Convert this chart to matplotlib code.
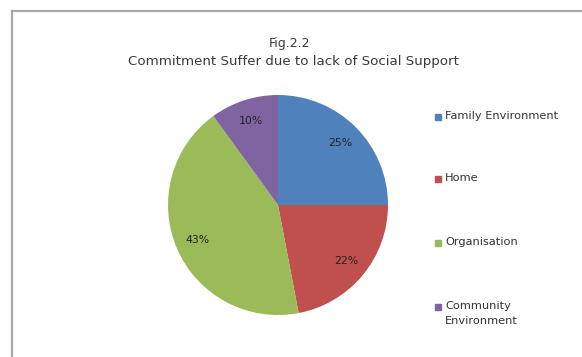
import matplotlib
matplotlib.use("Agg")
import matplotlib.pyplot as plt
from matplotlib.patches import Rectangle
from matplotlib.lines import Line2D

categories = ["Family Environment", "Home", "Organisation", "Community\nEnvironment"]
values = [25, 22, 43, 10]
colors = ["#4F81BD", "#C0504D", "#9BBB59", "#8064A2"]
title_lines = ["Fig.2.2", "Commitment Suffer due to lack of Social Support"]

W, H = 582, 357
fig = plt.figure(figsize=(W / 100, H / 100), dpi=100)
fig.patch.set_facecolor("white")

# outer chart border (top and left visible)
fig.add_artist(Line2D([11.5 / W, 1.0], [1 - 10.5 / H, 1 - 10.5 / H], color="#a9a9a9", lw=1.6))
fig.add_artist(Line2D([11.5 / W, 11.5 / W], [0.0, 1 - 10.5 / H], color="#a9a9a9", lw=1.6))

cx, cy, r = 278, 205, 110
ax = fig.add_axes([(cx - r) / W, (H - cy - r) / H, 2 * r / W, 2 * r / H])
wedges, texts, autotexts = ax.pie(values, colors=colors, startangle=90, counterclock=False,
                                  autopct=lambda p: f"{p:.0f}%", pctdistance=0.8,
                                  textprops=dict(fontsize=7.8, color="#222222", family="DejaVu Sans"),
                                  wedgeprops=dict(linewidth=0))
ax.set_xlim(-1, 1)
ax.set_ylim(-1, 1)
ax.set_aspect("equal")

fig.text(290 / W, 1 - 44 / H, title_lines[0], ha="center", va="center", fontsize=9, color="#3a3a3a",
         family="DejaVu Sans")
fig.text(293 / W, 1 - 62 / H, title_lines[1], ha="center", va="center", fontsize=9.6, color="#3a3a3a",
         family="DejaVu Sans")

leg_y = [117, 179, 243, 307]
for lab, col, y in zip(categories, colors, leg_y):
    fig.add_artist(Rectangle((435 / W, 1 - (y + 3) / H), 6 / W, 6 / H, color=col,
                             transform=fig.transFigure))
    fig.text(445 / W, 1 - (y - 6) / H, lab, ha="left", va="top", fontsize=8.2, color="#333333",
             family="DejaVu Sans", linespacing=1.6)

fig.savefig("out.png", dpi=100)
